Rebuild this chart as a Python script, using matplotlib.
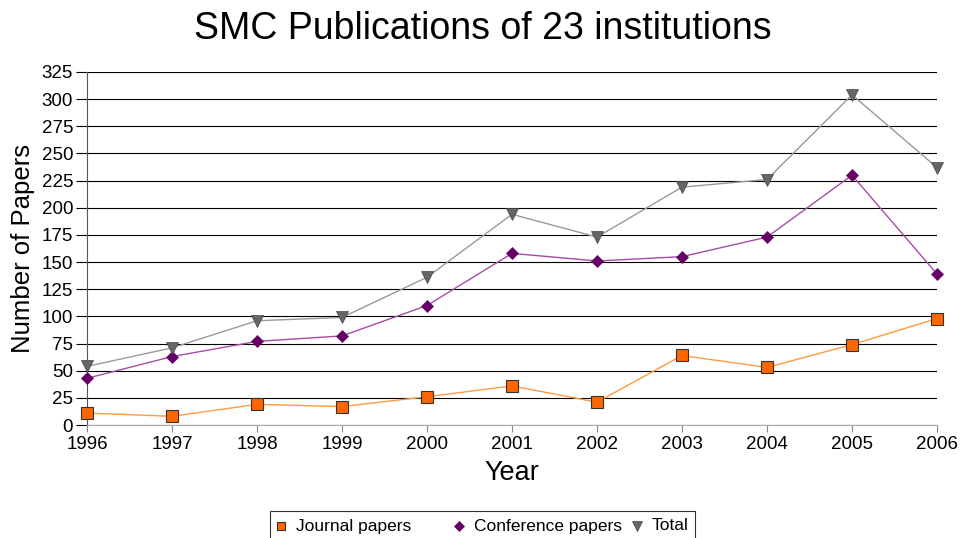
import matplotlib
matplotlib.use("Agg")
import matplotlib.pyplot as plt
from matplotlib.lines import Line2D
from matplotlib.patches import Rectangle

years = [1996, 1997, 1998, 1999, 2000, 2001, 2002, 2003, 2004, 2005, 2006]
journal = [11, 8, 19, 17, 26, 36, 21, 64, 53, 74, 98]
conference = [43, 63, 77, 82, 110, 158, 151, 155, 173, 230, 139]
total = [54, 71, 96, 99, 136, 194, 173, 219, 226, 304, 237]
yticks = list(range(0, 326, 25))
series_names = ['Journal papers', 'Conference papers', 'Total']

plt.rcParams['font.family'] = ['Liberation Sans', 'DejaVu Sans']

W, H = 971, 538
fig = plt.figure(figsize=(W / 100, H / 100), dpi=100)
ax = fig.add_axes([87 / W, 113 / H, 850 / W, 353 / H])

styles = [
    dict(color='#ff9a40', marker='s', ms=8, mfc='#ff6600', mec='#333333', mew=0.8),
    dict(color='#a64ca6', marker='D', ms=6, mfc='#660066', mec='#660066', mew=0.5),
    dict(color='#999999', marker='v', ms=8.5, mfc='#666666', mec='#444444', mew=0.5),
]
for vals, name, st in zip([journal, conference, total], series_names, styles):
    ax.plot(years, vals, lw=1.0, label=name, zorder=3, clip_on=False, **st)

ax.set_xlim(1996, 2006)
ax.set_ylim(0, 325)
ax.set_xticks(years)
ax.set_yticks(yticks)
ax.yaxis.grid(True, color='black', lw=0.8)
ax.set_axisbelow(True)
for s in ['top', 'right']:
    ax.spines[s].set_visible(False)
ax.spines['left'].set_color('#555555')
ax.spines['bottom'].set_color('#aaaaaa')
ax.tick_params(axis='y', direction='out', length=8, width=0.8, color='black', labelsize=13.5, pad=2)
ax.tick_params(axis='x', direction='out', length=5, width=0.8, color='#888888', labelsize=13.5, pad=3)

ax.set_xlabel('Year', fontsize=19.5, labelpad=5)
ax.set_ylabel('Number of Papers', fontsize=18.5, labelpad=5)
fig.text(0.5 * (193 + 772) / W, 1 - 29 / H, 'SMC Publications of 23 institutions',
         fontsize=27, ha='center', va='center')

# legend (manual, equal column widths like the reference)
fig.add_artist(Rectangle((270 / W, -0.02), 425 / W, (538 - 511) / H + 0.02,
                         transform=fig.transFigure, fill=False, ec='#333333', lw=0.8))
leg_y = 1 - 526 / H
leg_ms = [6, 5, 7]
for i, (name, st) in enumerate(zip(series_names, styles)):
    mx = (281 + i * 178) / W
    fig.add_artist(Line2D([mx], [leg_y], transform=fig.transFigure, linestyle='none',
                          marker=st['marker'], ms=leg_ms[i], mfc=st['mfc'], mec=st['mec'],
                          mew=st['mew']))
    fig.text(mx + 15 / W, leg_y, name, fontsize=12.5, ha='left', va='center')

fig.savefig('out.png', dpi=100)
